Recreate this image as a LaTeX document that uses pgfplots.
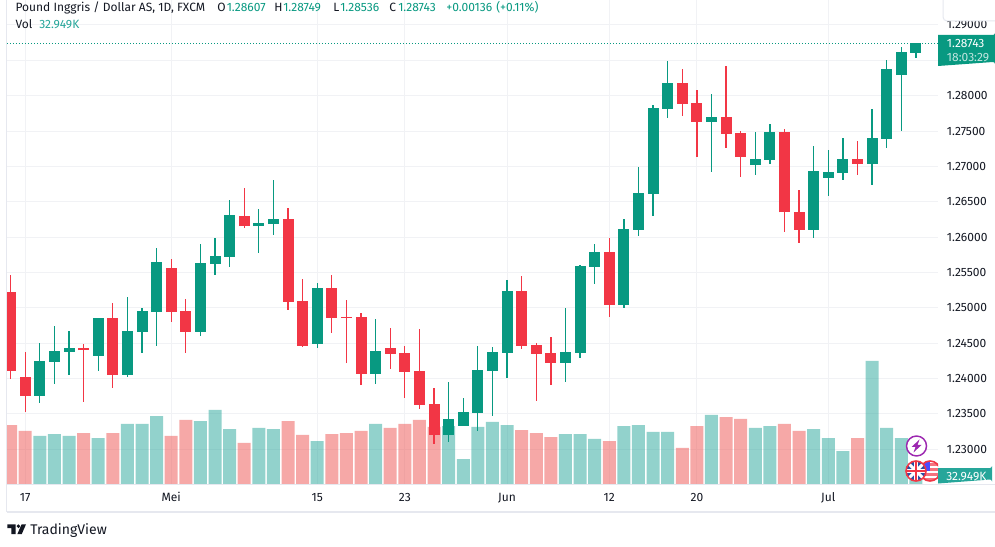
\documentclass[border=0pt]{standalone}
\usepackage{fontspec}
\setmainfont{Fira Sans}
\usepackage{pgfplots}
\usepackage{pgfplotstable}
\pgfplotsset{compat=1.18}
\definecolor{tvgreen}{HTML}{089981}
\definecolor{tvred}{HTML}{F23645}
\definecolor{volgreen}{HTML}{26A69A}
\definecolor{volred}{HTML}{EF5350}
\definecolor{tvtext}{HTML}{131722}
\definecolor{tvgrid}{HTML}{F1F2F5}
\definecolor{tvframe}{HTML}{E6E8EF}
\definecolor{tvpurple}{HTML}{9C27B0}
\definecolor{ukblue}{HTML}{2A4FA3}

% i open high low close (price candles)
\pgfplotstableread{
i  o       h       l       c
-1 1.25224 1.25465 1.23999 1.24112
0  1.24022 1.24376 1.23532 1.23758
4  1.24433 1.24489 1.23673 1.24404
6  1.24857 1.25069 1.23871 1.24055
10 1.25564 1.25691 1.24800 1.24941
11 1.24956 1.25125 1.24366 1.24659
15 1.26299 1.26695 1.26129 1.26157
18 1.26256 1.26412 1.24970 1.25083
19 1.25097 1.25408 1.24447 1.24461
21 1.25281 1.25465 1.24645 1.24857
22 1.24871 1.25111 1.24220 1.24857
23 1.24871 1.24927 1.23914 1.24069
25 1.24433 1.24715 1.24140 1.24352
26 1.24362 1.24461 1.23730 1.24097
27 1.24107 1.24701 1.23574 1.23631
28 1.23641 1.23867 1.23080 1.23207
34 1.25238 1.25450 1.24423 1.24461
35 1.24475 1.24503 1.23687 1.24352
36 1.24362 1.24588 1.23914 1.24225
40 1.25790 1.25988 1.24875 1.25045
45 1.28179 1.28377 1.27717 1.27887
46 1.27896 1.28080 1.27137 1.27632
48 1.27698 1.28419 1.27264 1.27462
49 1.27472 1.27500 1.26854 1.27137
52 1.27486 1.27529 1.26077 1.26351
53 1.26355 1.26666 1.25921 1.26105
57 1.27105 1.27359 1.26883 1.27038
}\redtable
\pgfplotstableread{
i  o       h       l       c
1  1.23758 1.24503 1.23659 1.24249
2  1.24239 1.24744 1.23928 1.24390
3  1.24376 1.24673 1.24055 1.24433
5  1.24324 1.24860 1.24112 1.24857
7  1.24055 1.25154 1.24027 1.24673
8  1.24663 1.24998 1.24366 1.24956
9  1.24941 1.25846 1.24465 1.25648
12 1.24659 1.25903 1.24606 1.25634
13 1.25620 1.25988 1.25465 1.25733
14 1.25719 1.26525 1.25578 1.26313
16 1.26157 1.26398 1.25776 1.26200
17 1.26185 1.26808 1.26030 1.26256
20 1.24489 1.25351 1.24433 1.25281
24 1.24069 1.24842 1.23928 1.24390
29 1.23207 1.23952 1.23108 1.23429
30 1.23334 1.23726 1.23330 1.23528
31 1.23518 1.24461 1.23263 1.24121
32 1.24112 1.24447 1.23475 1.24376
33 1.24366 1.25394 1.24013 1.25238
37 1.24225 1.24998 1.23956 1.24376
38 1.24366 1.25606 1.24295 1.25592
39 1.25582 1.25903 1.25342 1.25790
41 1.25045 1.26256 1.25002 1.26115
42 1.26105 1.26992 1.26020 1.26624
43 1.26614 1.27868 1.26303 1.27826
44 1.27816 1.28490 1.27689 1.28179
47 1.27632 1.28024 1.26925 1.27698
50 1.27024 1.27486 1.26883 1.27105
51 1.27095 1.27600 1.27038 1.27486
54 1.26105 1.27289 1.25992 1.26935
55 1.26840 1.27232 1.26586 1.26921
56 1.26911 1.27402 1.26812 1.27105
58 1.27038 1.27812 1.26741 1.27402
59 1.27392 1.28504 1.27264 1.28377
60 1.28296 1.28688 1.27505 1.28617
61 1.28607 1.28749 1.28536 1.28743
}\greentable

% i volume in thousands
\pgfplotstableread{
i  v
-1 230.6
0  207.4
4  199.6
6  199.6
10 188.0
11 250.0
15 160.9
18 246.1
19 191.9
21 195.7
22 199.6
23 207.4
25 219.0
26 234.5
27 250.0
28 222.9
34 211.2
35 199.6
36 184.1
40 168.6
45 141.5
46 226.7
48 261.6
49 253.9
52 234.5
53 207.4
57 180.2
}\redvol
\pgfplotstableread{
i  v
1  188.0
2  195.7
3  188.0
5  180.2
7  234.5
8  234.5
9  265.5
12 246.1
13 288.8
14 215.1
16 219.0
17 215.1
20 168.6
24 234.5
29 226.7
30 98.8
31 222.9
32 242.3
33 230.6
37 195.7
38 195.7
39 176.4
41 226.7
42 230.6
43 203.5
44 203.5
47 269.4
50 219.0
51 226.7
54 215.1
55 180.2
56 129.8
58 478.7
59 219.0
60 180.2
61 32.949
}\greenvol

\pgfplotsset{
  tvaxis/.style={
    at={(5.25pt,46.125pt)}, anchor=south west, scale only axis,
    width=698.25pt, height=363.375pt,
    xmin=-1.2466, xmax=62.5137,
  }
}
\newcommand{\lab}{\fontsize{9}{11}\selectfont}
\begin{document}
\begin{tikzpicture}
\path[use as bounding box, fill=white] (0,0) rectangle (746.25pt,409.5pt);

% price scale, grid and date labels
\begin{axis}[tvaxis,
  ymin=1.225026, ymax=1.293525,
  axis line style={draw=none},
  xtick={0,10,20,26,33,40,46,55},
  xticklabels={17,Mei,15,23,Jun,12,20,Jul},
  ytick={1.23,1.235,1.24,1.245,1.25,1.255,1.26,1.265,1.27,1.275,1.28,1.285,1.29},
  yticklabels={1.23000,1.23500,1.24000,1.24500,1.25000,1.25500,1.26000,1.26500,1.27000,1.27500,1.28000,,1.29000},
  yticklabel pos=right,
  major tick length=0pt,
  xmajorgrids, ymajorgrids,
  grid style={draw=tvgrid, line width=.75pt},
  tick label style={font=\lab, text=tvtext},
  yticklabel style={inner sep=0pt, xshift=6.5pt, anchor=west},
  xticklabel style={inner sep=0pt, yshift=-6pt, text height=6.5pt, text depth=0pt, anchor=north},
]
\end{axis}

% volume pane
\begin{axis}[tvaxis, hide axis, ymin=0, ymax=1877.9]
\addplot[ybar, bar width=9.75pt, bar shift=0pt, draw=none, fill=volred, fill opacity=.5] table[x=i,y=v] {\redvol};
\addplot[ybar, bar width=9.75pt, bar shift=0pt, draw=none, fill=volgreen, fill opacity=.5] table[x=i,y=v] {\greenvol};
\end{axis}

% candles
\begin{axis}[tvaxis, hide axis, ymin=1.225026, ymax=1.293525]
\addplot[tvgreen, line width=.75pt, dash pattern=on .75pt off 1.5pt] coordinates {(-1.2466,1.28743) (62.5137,1.28743)};
\addplot[draw=none, mark=none, error bars/.cd, y dir=plus, y explicit, error mark=none,
  error bar style={line width=.95pt, color=tvred}] table[x=i,y=l,y error expr=\thisrow{h}-\thisrow{l}] {\redtable};
\addplot[draw=none, mark=none, error bars/.cd, y dir=plus, y explicit, error mark=none,
  error bar style={line width=8.25pt, color=tvred}] table[x=i,y=c,y error expr=\thisrow{o}-\thisrow{c}] {\redtable};
\addplot[draw=none, mark=none, error bars/.cd, y dir=plus, y explicit, error mark=none,
  error bar style={line width=.95pt, color=tvgreen}] table[x=i,y=l,y error expr=\thisrow{h}-\thisrow{l}] {\greentable};
\addplot[draw=none, mark=none, error bars/.cd, y dir=plus, y explicit, error mark=none,
  error bar style={line width=8.25pt, color=tvgreen}] table[x=i,y=o,y error expr=\thisrow{c}-\thisrow{o}] {\greentable};
\end{axis}

\begin{scope}[x=.75pt,y=-.75pt,yshift=409.5pt]
% frame
\draw[tvframe, line width=1pt] (6.5,0) -- (6.5,512);
\draw[tvframe, line width=.9pt] (7,484.5) -- (995,484.5);
\draw[tvframe, line width=1pt] (6.5,512) -- (995,512);
% scale corner button
\draw[tvframe, fill=white, line width=.75pt, rounded corners=3pt] (943,-8) rectangle (1000,21);
% event icons
\begin{scope}
\clip (900,455) rectangle (938,485);
\fill[white] (930,471) circle (10);
\begin{scope}
\clip (930,471) circle (10);
\foreach \yy in {463,468,473,478}{\fill[tvred!70] (918,\yy) rectangle (942,\yy+2.5);}
\fill[blue!70!white] (922,462) rectangle (930,471);
\end{scope}
\draw[tvred, line width=1.2pt] (930,471) circle (10);
\fill[white] (916,471) circle (10);
\begin{scope}
\clip (916,471) circle (10);
\fill[ukblue] (905,460) rectangle (927,482);
\draw[white, line width=2.2pt] (906,461) -- (926,481) (926,461) -- (906,481);
\draw[white, line width=3.6pt] (916,460) -- (916,482) (905,471) -- (927,471);
\draw[tvred, line width=1.6pt] (916,460) -- (916,482) (905,471) -- (927,471);
\end{scope}
\draw[tvred, line width=1.2pt] (916,471) circle (10);
\end{scope}
\fill[white] (916.5,446) circle (10);
\draw[tvpurple, line width=1.1pt] (916.5,446) circle (10);
\fill[tvpurple] (919.5,439.5) -- (911.5,447) -- (915.5,447) -- (913.5,452.5) -- (921.5,445) -- (917.5,445) -- cycle;
% value labels
\fill[tvgreen] (938,35) -- (993,35) arc[start angle=90,end angle=0,radius=2] -- (995,64) arc[start angle=0,end angle=-90,radius=2] -- (938,66) -- cycle;
\node[anchor=west, inner sep=0pt, text=white, font=\lab] at (946.7,43.7) {1.28743};
\node[anchor=west, inner sep=0pt, text=white!75!tvgreen, font=\lab] at (946.7,58) {18:03:29};
\fill[volgreen] (938,468) -- (990,468) arc[start angle=90,end angle=0,radius=2] -- (992,481.5) arc[start angle=0,end angle=-90,radius=2] -- (938,483.5) -- cycle;
\node[anchor=west, inner sep=0pt, text=white, font=\lab] at (946,476.3) {32.949K};
% header
\node[anchor=base west, inner sep=0pt, text=tvtext, font=\lab] at (15.3,12) {Pound Inggris / Dollar AS, 1D, FXCM};
\node[anchor=base west, inner sep=0pt, text=tvtext, font=\lab] at (217,12) {O};
\node[anchor=base west, inner sep=0pt, text=tvgreen, font=\lab] at (226.5,12) {1.28607};
\node[anchor=base west, inner sep=0pt, text=tvtext, font=\lab] at (274,12) {H};
\node[anchor=base west, inner sep=0pt, text=tvgreen, font=\lab] at (283,12) {1.28749};
\node[anchor=base west, inner sep=0pt, text=tvtext, font=\lab] at (333,12) {L};
\node[anchor=base west, inner sep=0pt, text=tvgreen, font=\lab] at (340,12) {1.28536};
\node[anchor=base west, inner sep=0pt, text=tvtext, font=\lab] at (389,12) {C};
\node[anchor=base west, inner sep=0pt, text=tvgreen, font=\lab] at (398,12) {1.28743};
\node[anchor=base west, inner sep=0pt, text=tvgreen, font=\lab] at (446,12) {+0.00136};
\node[anchor=base west, inner sep=0pt, text=tvgreen, font=\lab] at (496,12) {(+0.11\%)};
\node[anchor=base west, inner sep=0pt, text=tvtext, font=\lab] at (15.3,28.7) {Vol};
\node[anchor=base west, inner sep=0pt, text=volgreen, font=\lab] at (39,28.7) {32.949K};
% logo
\fill[tvtext] (7.3,524.3) -- (15.5,524.3) -- (15.5,534) -- (11.3,534) -- (11.3,528) -- (7.3,528) -- cycle;
\fill[tvtext] (18.4,526.2) circle (1.9);
\fill[tvtext] (21.6,524.3) -- (26,524.3) -- (21.8,534) -- (17.4,534) -- cycle;
\node[anchor=base west, inner sep=0pt, text=tvtext, font=\fontsize{10.5}{12}\selectfont] at (30,534) {TradingView};
\end{scope}
\end{tikzpicture}
\end{document}
